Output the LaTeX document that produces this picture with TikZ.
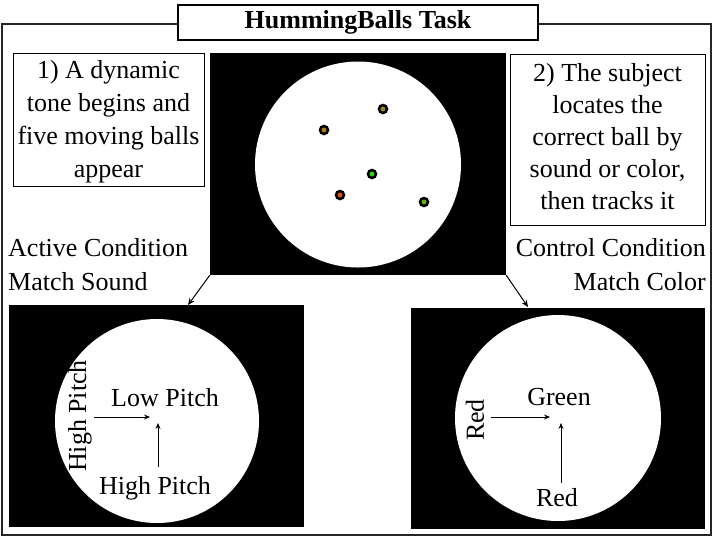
\documentclass[tikz,border=0pt]{standalone}
\usepackage{fontspec}
\setmainfont{Liberation Serif}
\usetikzlibrary{arrows.meta}
\definecolor{ballA}{HTML}{9A8A22}
\definecolor{ballB}{HTML}{B07A24}
\definecolor{ballC}{HTML}{3CCB1E}
\definecolor{ballD}{HTML}{DE5512}
\definecolor{ballE}{HTML}{62AE22}
\tikzset{
  txt/.style={font=\fontsize{26}{32}\selectfont, inner sep=0pt},
  infobox/.style={draw, line width=1pt, inner sep=0pt},
  infotext/.style={txt, align=center},
  screen/.style={fill=black, draw=none},
  arena/.style={fill=white, draw=none},
  ball/.style={circle, draw=black, line width=2.5pt, minimum size=8pt, inner sep=0pt},
  flow/.style={line width=1pt, -{Stealth[length=7pt,width=6pt,inset=2.5pt]}},
  cue/.style={line width=0.9pt, -{Stealth[length=6pt,width=5pt,inset=2pt]}}
}
\begin{document}
\begin{tikzpicture}[x=1pt,y=-1pt]
\useasboundingbox (0,0) rectangle (714,539);
% outer frame
\draw[line width=1.2pt, draw=black!85] (2,24) rectangle (711,535);
% title
\node[draw, line width=1.2pt, fill=white, minimum width=360pt, minimum height=35pt, inner sep=0pt,
      font=\fontsize{26}{30}\selectfont\bfseries] (title) at (358,22.5) {HummingBalls Task};

% top screen
\node[screen, minimum width=296pt, minimum height=222pt, inner sep=0pt] (top) at (358,164) {};
\node[arena, circle, minimum size=206pt, inner sep=0pt] (topc) at (358,164.5) {};
\node[ball, fill=ballA] (b1) at (383,109) {};
\node[ball, fill=ballB] (b2) at (324,130) {};
\node[ball, fill=ballC] (b3) at (372,174) {};
\node[ball, fill=ballD] (b4) at (340,195) {};
\node[ball, fill=ballE] (b5) at (424,202) {};

% step boxes
\node[infobox, minimum width=191pt, minimum height=133pt] (s1) at (108.5,119.5) {};
\node[infotext, font=\fontsize{26}{33}\selectfont] (s1t) at (108.5,122) {1) A dynamic\\tone begins and\\five moving balls\\appear};
\node[infobox, minimum width=195pt, minimum height=171pt] (s2) at (607.5,139.5) {};
\node[infotext] (s2t) at (607.5,137)
  {2) The subject\\locates the\\correct ball by\\sound or color,\\then tracks it};

% condition labels
\node[txt, align=left, anchor=west, font=\fontsize{26}{34}\selectfont] (act) at (8,265)
  {Active Condition\\Match Sound};
\node[txt, align=right, anchor=east, font=\fontsize{26}{34}\selectfont] (ctl) at (706,265)
  {Control Condition\\Match Color};

% bottom-left screen
\node[screen, minimum width=295pt, minimum height=222pt, inner sep=0pt] (left) at (156.5,416) {};
\node[arena, circle, minimum size=204pt, inner sep=0pt] (leftc) at (157,421) {};
\node[txt] (lp) at (165,398) {Low Pitch};
\node[txt, rotate=90] (hpv) at (80,416) {High Pitch};
\node[txt] (hph) at (155,488) {High Pitch};
\coordinate (l1) at (94,417);
\coordinate (l2) at (150,417);
\coordinate (l3) at (158,467);
\coordinate (l4) at (158,423);
\draw[cue] (l1) -- (l2);
\draw[cue] (l3) -- (l4);

% bottom-right screen
\node[screen, minimum width=294pt, minimum height=221pt, inner sep=0pt] (right) at (558,418.5) {};
\node[arena, circle, minimum size=206pt, inner sep=0pt] (rightc) at (558,418) {};
\node[txt] (gr) at (559,397) {Green};
\node[txt, rotate=90] (rdv) at (475,420) {Red};
\node[txt] (rdh) at (557,498) {Red};
\coordinate (r1) at (491,417);
\coordinate (r2) at (550,417);
\coordinate (r3) at (561,483);
\coordinate (r4) at (561,423);
\draw[cue] (r1) -- (r2);
\draw[cue] (r3) -- (r4);

% flow arrows
\coordinate (la) at (188,305);
\coordinate (ra) at (528,307);
\draw[flow] (top.south west) -- (la);
\draw[flow] (top.south east) -- (ra);
\end{tikzpicture}
\end{document}
